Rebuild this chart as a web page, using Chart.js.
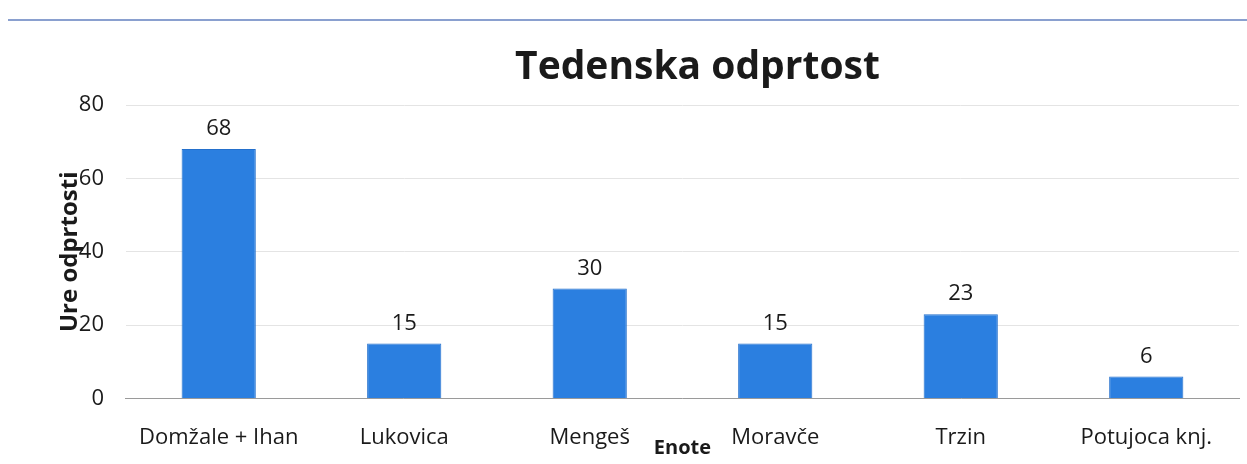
<!DOCTYPE html>
<html>
<head>
<meta charset="utf-8">
<script src="https://cdn.jsdelivr.net/npm/chart.js@4/dist/chart.umd.min.js"></script>
<style>
    html, body { margin: 0; padding: 0; background: #fff; }
    #wrap { position: relative; width: 1247px; height: 464px; }
    #topline { position: absolute; left: 8px; right: 0; top: 19px; border-top: 2px solid #8aa0cf; }
</style>
</head>
<body>
<div id="wrap">
    <div id="topline"></div>
    <canvas id="chart" width="1247" height="464"></canvas>
</div>
<script>
    var naslov = 'Tedenska odprtost';
    var enote = ['Domžale + Ihan', 'Lukovica', 'Mengeš', 'Moravče', 'Trzin', 'Potujoca knj.'];
    var ure = [68, 15, 30, 15, 23, 6];
    var yTicks = [0, 20, 40, 60, 80];

    var font = "'Open Sans', 'Noto Sans', sans-serif";

    //title over the plot area + labels above each bar
    var decor = {
        id: 'decor',
        afterDatasetsDraw: function(chart) {
            var ctx = chart.ctx;
            var area = chart.chartArea;
            var meta = chart.getDatasetMeta(0);
            ctx.save();
            ctx.fillStyle = '#1a1a1a';
            ctx.textAlign = 'center';
            ctx.font = 'bold 39px ' + font;
            ctx.textBaseline = 'middle';
            ctx.fillText(naslov, (area.left + area.right) / 2 + 15, 68);
            ctx.font = '22px ' + font;
            ctx.textBaseline = 'bottom';
            meta.data.forEach(function(bar, i) {
                ctx.fillText(ure[i], bar.x, bar.y - 9);
            });
            ctx.restore();
        }
    };

    var ctx = document.getElementById('chart').getContext('2d');
    var chart = new Chart(ctx, {
        type: 'bar',
        data: {
            labels: enote,
            datasets: [{
                data: ure,
                backgroundColor: '#2b7fe0',
                borderColor: '#2470cc',
                borderWidth: 1,
                barPercentage: 0.4,
                categoryPercentage: 1
            }]
        },
        options: {
            responsive: false,
            animation: false,
            layout: { padding: { left: 56, right: 8, top: 105, bottom: 4 } },
            plugins: {
                legend: { display: false },
                tooltip: { enabled: false }
            },
            scales: {
                x: {
                    grid: { display: false, drawTicks: false },
                    border: { color: '#9a9a9a' },
                    ticks: { color: '#1a1a1a', font: { family: font, size: 22 }, padding: 26, maxRotation: 0 },
                    title: {
                        display: true,
                        text: 'Enote',
                        color: '#1a1a1a',
                        font: { family: font, size: 20, weight: 'bold' },
                        padding: { top: -41, bottom: 0 }
                    }
                },
                y: {
                    min: 0,
                    max: 80,
                    afterBuildTicks: function(axis) {
                        axis.ticks = yTicks.map(function(v) { return { value: v }; });
                    },
                    grid: { color: '#e4e4e4', drawTicks: false },
                    border: { display: false },
                    ticks: { color: '#1a1a1a', font: { family: font, size: 22 }, padding: 22 },
                    title: {
                        display: true,
                        text: 'Ure odprtosti',
                        color: '#1a1a1a',
                        font: { family: font, size: 24, weight: 'bold' },
                        padding: { top: 0, bottom: -28 }
                    }
                }
            }
        },
        plugins: [decor]
    });
</script>
</body>
</html>
